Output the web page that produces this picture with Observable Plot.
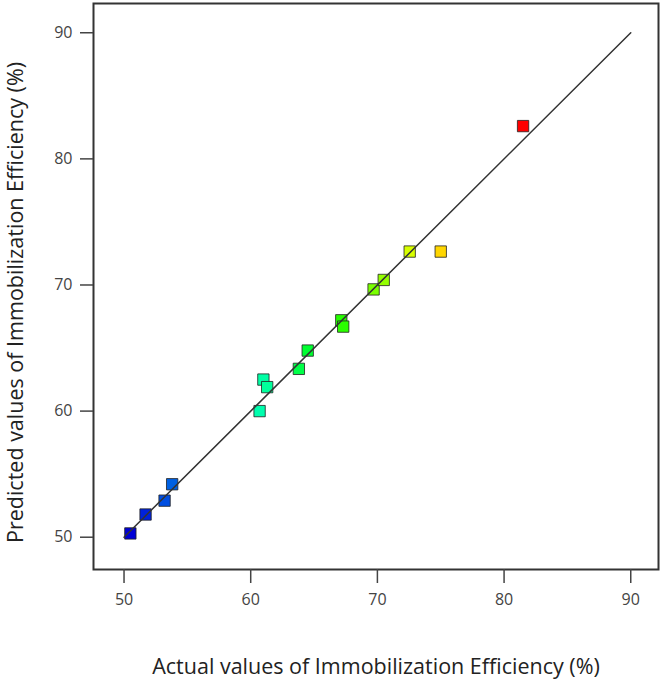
<!DOCTYPE html>
<html>
<head>
<meta charset="utf-8">
<script src="https://cdn.jsdelivr.net/npm/d3@7"></script>
<script src="https://cdn.jsdelivr.net/npm/@observablehq/plot@0.6"></script>
<style>
  html, body { margin: 0; padding: 0; background: #fff; }
  #chart svg { display: block; }
</style>
</head>
<body>
<div id="chart"></div>
<script>
const actual    = [50.5, 51.7, 53.2, 53.8, 60.7, 61.0, 61.3, 63.8, 64.5, 67.15, 67.3, 69.7, 70.5, 72.55, 75.0, 81.5];
const predicted = [50.3, 51.8, 52.9, 54.2, 60.0, 62.5, 61.9, 63.35, 64.8, 67.2, 66.7, 69.65, 70.4, 72.65, 72.65, 82.6];
const xTicks = [50, 60, 70, 80, 90];
const yTicks = [50, 60, 70, 80, 90];
const refLine = [50, 90];

const points = actual.map((a, i) => ({actual: a, predicted: predicted[i]}));
const line = refLine.map(v => ({actual: v, predicted: v}));

const font = "'Open Sans', 'Noto Sans', sans-serif";

const chart = Plot.plot({
  width: 663,
  height: 680,
  marginLeft: 93,
  marginRight: 5,
  marginTop: 3,
  marginBottom: 111,
  style: {fontFamily: font, background: "#fff"},
  x: {domain: [47.59, 92.19]},
  y: {domain: [47.44, 92.32]},
  color: {
    type: "linear",
    domain: [d3.min(actual), d3.max(actual)],
    interpolate: t => d3.hsl(240 * (1 - t), 1, 0.42 + 0.08 * Math.min(1, t * 3)).toString()
  },
  marks: [
    Plot.frame({stroke: "#333", strokeWidth: 2}),
    Plot.axisX({
      ticks: xTicks, tickSize: 14, tickPadding: 10, fontSize: 16, stroke: "#444", strokeWidth: 1.5,
      color: "#444", tickFormat: d3.format("d"),
      label: "Actual values of Immobilization Efficiency (%)", labelAnchor: "center",
      labelArrow: "none", labelOffset: 104
    }),
    Plot.axisY({
      ticks: yTicks, tickSize: 13, tickPadding: 8, fontSize: 16, stroke: "#444", strokeWidth: 1.5,
      color: "#444", tickFormat: d3.format("d"),
      label: "Predicted values of Immobilization Efficiency (%)", labelAnchor: "center",
      labelArrow: "none", labelOffset: 86
    }),
    Plot.dot(points, {
      x: "actual", y: "predicted", fill: "actual", symbol: "square", r: 6.4,
      stroke: "#222", strokeOpacity: 0.8, strokeWidth: 1
    }),
    Plot.line(line, {x: "actual", y: "predicted", stroke: "#333", strokeWidth: 1.5})
  ]
});

d3.select(chart).selectAll("[aria-label='x-axis label'] text, [aria-label='y-axis label'] text")
  .attr("font-size", 21.5).attr("fill", "#222");
d3.select(chart).selectAll("[aria-label='y-axis label'] text").attr("dx", -16);

document.getElementById("chart").appendChild(chart);
</script>
</body>
</html>
